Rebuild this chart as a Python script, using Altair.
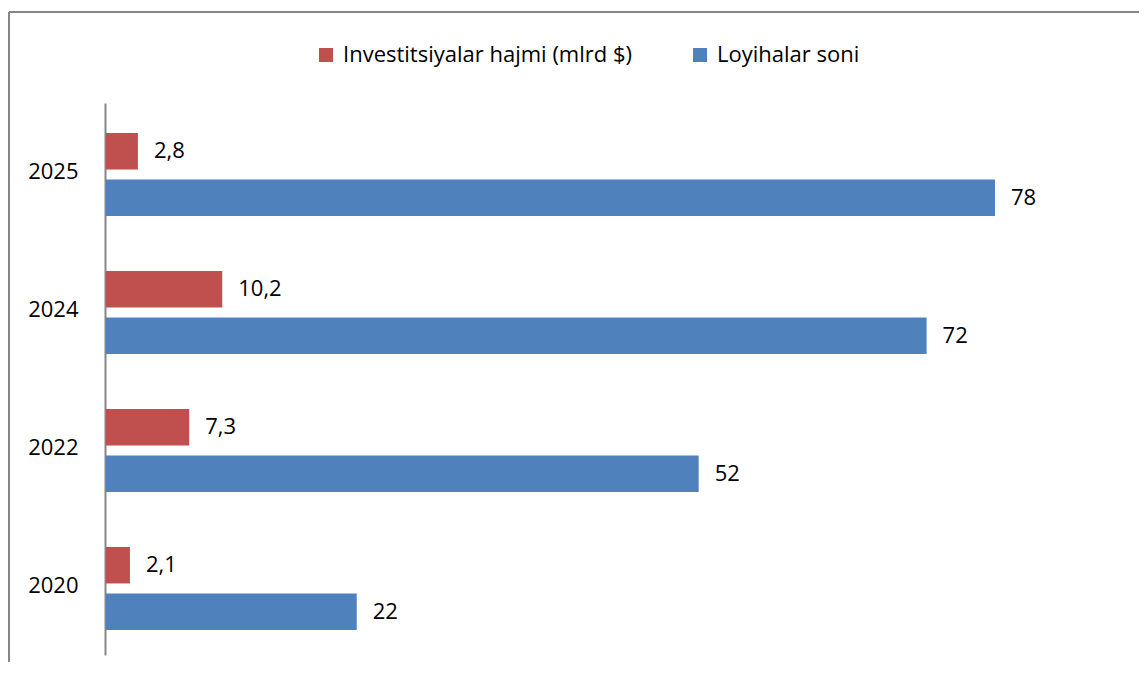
import altair as alt
import pandas as pd

years = ["2025", "2024", "2022", "2020"]
series = ["Investitsiyalar hajmi (mlrd $)", "Loyihalar soni"]
invest = [2.8, 10.2, 7.3, 2.1]
projects = [78, 72, 52, 22]
colors = ["#C0504D", "#4F81BD"]

rows = []
for y, v in zip(years, invest):
    rows.append({"year": y, "series": series[0], "value": v,
                 "label": f"{v:.1f}".replace(".", ",")})
for y, v in zip(years, projects):
    rows.append({"year": y, "series": series[1], "value": v, "label": str(v)})
df = pd.DataFrame(rows)

FONT = "Open Sans"
FS = 22
W, H = 1130, 650

base = alt.Chart(df).encode(
    y=alt.Y("year:N", sort=years,
            scale=alt.Scale(range=[91, 643], paddingInner=0, paddingOuter=0),
            axis=alt.Axis(title=None, offset=-96, ticks=False, domainColor="#868686",
                          domainWidth=2, labelFontSize=FS, labelPadding=27,
                          labelColor="black", labelFont=FONT)),
    yOffset=alt.YOffset("series:N", sort=series,
                        scale=alt.Scale(paddingInner=0.215, paddingOuter=0.591, align=0.545)),
    x=alt.X("value:Q", scale=alt.Scale(domain=[0, 78], range=[97, 986]), axis=None),
)

bars = base.mark_bar().encode(
    color=alt.Color("series:N", sort=series,
                    scale=alt.Scale(domain=series, range=colors),
                    legend=alt.Legend(orient="none", legendX=306, legendY=32,
                                      direction="horizontal", title=None,
                                      symbolType="square", symbolSize=196,
                                      symbolStrokeWidth=0, labelFontSize=FS,
                                      labelFont=FONT, labelColor="black",
                                      labelLimit=0,
                                      columnPadding=56, labelOffset=6))
)

text = base.mark_text(align="left", dx=16, fontSize=FS, font=FONT, color="black").encode(
    text="label:N"
)

frame_df = pd.DataFrame({"k": [0]})
left_rule = alt.Chart(frame_df).mark_rule(color="#868686", strokeWidth=2).encode(
    x=alt.value(0), y=alt.value(0), y2=alt.value(H + 20)
)
top_rule = alt.Chart(frame_df).mark_rule(color="#868686", strokeWidth=2).encode(
    x=alt.value(0), x2=alt.value(W + 20), y=alt.value(0)
)

chart = alt.layer(bars, text, left_rule, top_rule).properties(
    width=W, height=H,
    autosize=alt.AutoSizeParams(type="none"),
    padding={"left": 1, "top": 4, "right": 0, "bottom": 0},
    background="white",
).configure_view(stroke=None)

chart.save("out.html", embed_options={"renderer": "svg", "actions": False})
